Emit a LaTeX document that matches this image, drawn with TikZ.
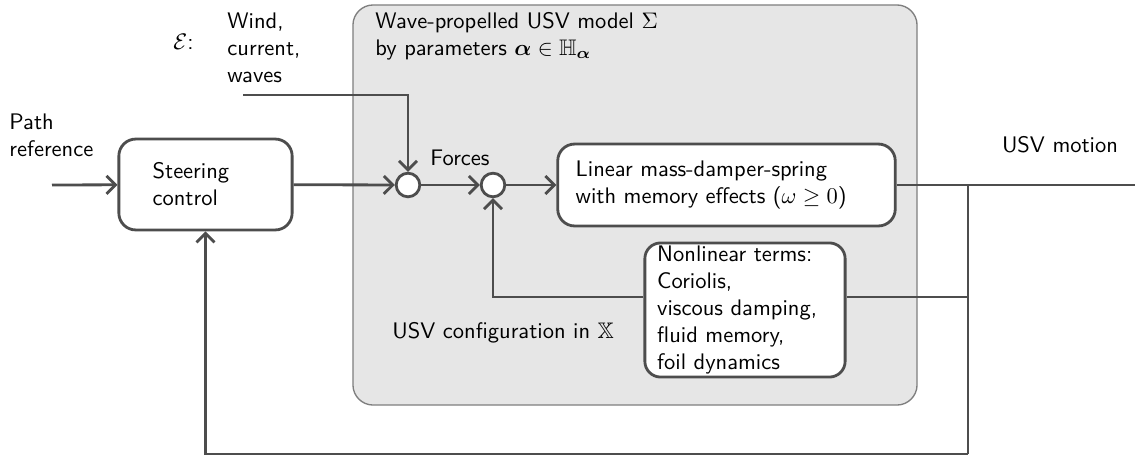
\documentclass[tikz,border=0pt]{standalone}
\usepackage{amsmath,amssymb}
\usepackage{tikz}
\usetikzlibrary{arrows.meta}
\usepackage{xcolor}
\definecolor{diagline}{HTML}{4D4D4D}
\definecolor{modelfill}{HTML}{E6E6E6}
\definecolor{modeledge}{HTML}{7F7F7F}

\begin{document}
\begin{tikzpicture}[
  x=0.4444pt, y=-0.4444pt,
  font=\sffamily,
  modelbox/.style={draw=modeledge, fill=modelfill, line width=0.6pt, rounded corners=9pt, minimum width=250.7pt, minimum height=177.8pt},
  blockbox/.style={draw=diagline, fill=white, line width=1.25pt, rounded corners=7.5pt, align=left},
  sumnode/.style={circle, draw=diagline, fill=white, line width=1.25pt, minimum size=10.5pt, inner sep=0pt},
  label/.style={align=left, inner sep=0pt},
  line/.style={draw=diagline, line width=1.25pt},
  arrow/.style={line, -{Straight Barb[length=4pt,width=8pt]}}
]
\useasboundingbox (0,0) rectangle (1135,456);
% model background
\node[modelbox] (model) at (635,205) {};
\node[label, anchor=west] (title) at (375,36) {Wave-propelled USV model $\Sigma$\\by parameters $\boldsymbol{\alpha}\in\mathbb{H}_{\boldsymbol{\alpha}}$};
\node[label, anchor=west] (config) at (392,333) {USV configuration in $\mathbb{X}$};
% blocks
\node[blockbox, text width=47pt, inner xsep=15pt, minimum height=40.4pt] (steer) at (205.5,184.5) {Steering\\control};
\node[sumnode] (sum1) at (408,185) {};
\node[sumnode] (sum2) at (493,185) {};
\node[blockbox, text width=134pt, inner xsep=8pt, minimum height=36.4pt] (lin) at (726.5,185) {Linear mass-damper-spring\\with memory effects ($\omega\geq 0$)};
\node[blockbox, text width=78pt, inner xsep=5.5pt, inner ysep=1pt, minimum height=59.6pt, rounded corners=7pt] (nlin) at (745,310) {Nonlinear terms:\\Coriolis,\\viscous damping,\\fluid memory,\\foil dynamics};
% texts
\node[label, anchor=west] (ref) at (9,135) {Path\\reference};
\node[label, anchor=east] (env) at (194,42) {$\mathcal{E}$:};
\node[label, anchor=west] (dist) at (227,47.5) {Wind,\\current,\\waves};
\node[label] (forces) at (460,158) {Forces};
\node[label] (motion) at (1060,145) {USV motion};
% free ends
\coordinate (in) at (52,185);
\coordinate (din) at (243,95);
\coordinate (out) at (1135,185);
\coordinate (tap1) at (968,185);
\coordinate (tap2) at (968,297);
\coordinate (tap3) at (968,454);
% connectors
\draw[arrow] (in) -- (steer);
\draw[arrow] (steer) -- (sum1);
\draw[arrow] (din) -| (sum1.north);
\draw[arrow] (sum1) -- (sum2);
\draw[arrow] (sum2) -- (lin);
\draw[line] (lin) -- (out);
\draw[line] (tap1) -- (tap3);
\draw[line] (tap2) -- (nlin.east |- tap2);
\draw[arrow] (nlin.west |- tap2) -| (sum2.south);
\draw[arrow] (tap3) -| (steer.south);
\end{tikzpicture}
\end{document}
